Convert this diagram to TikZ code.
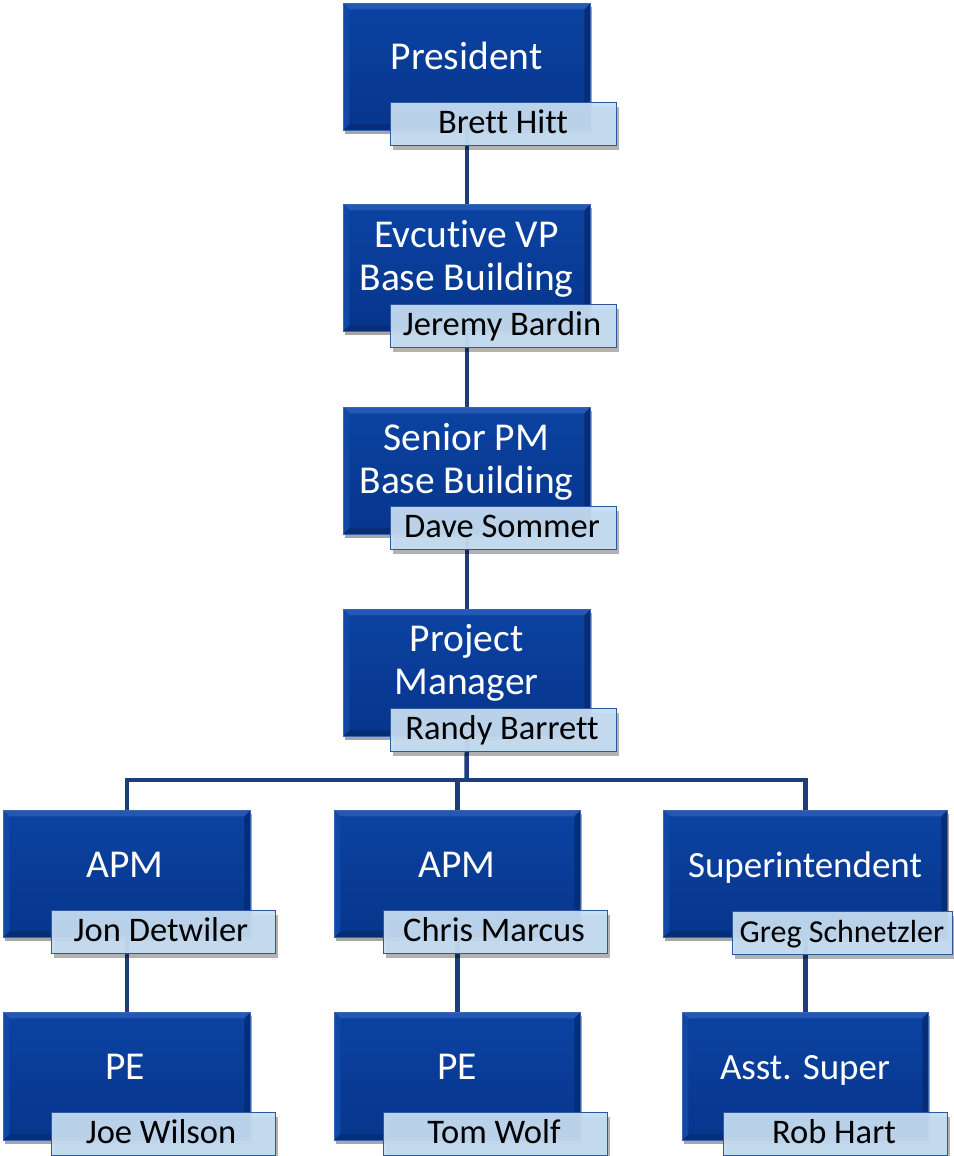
\documentclass[tikz,border=0pt]{standalone}
\usepackage{fontspec}
\setmainfont{Carlito}[Ligatures=NoCommon]
\usetikzlibrary{shadows}

\definecolor{roletop}{HTML}{0B43A2}
\definecolor{rolebottom}{HTML}{07358C}
\definecolor{roleedge}{HTML}{3A66B0}
\definecolor{bevellight}{HTML}{2458B4}
\definecolor{bevelside}{HTML}{0F48A6}
\definecolor{beveldark}{HTML}{062E78}
\definecolor{namefill}{HTML}{C6DDF2}
\definecolor{nameedge}{HTML}{2D5A9E}
\definecolor{linkblue}{HTML}{1D3D7C}

\pgfdeclarelayer{links}
\pgfsetlayers{links,main}

\tikzset{
  rolebox/.style={rectangle, inner sep=0pt, anchor=north west,
    draw=roleedge, line width=0.8pt,
    top color=roletop, bottom color=rolebottom,
    drop shadow={shadow xshift=2pt, shadow yshift=-4pt, opacity=0.35, fill=black},
    path picture={
      \fill[bevellight] (path picture bounding box.north west) -- (path picture bounding box.north east)
        -- ([shift={(-6pt,-6pt)}]path picture bounding box.north east)
        -- ([shift={(6pt,-6pt)}]path picture bounding box.north west) -- cycle;
      \fill[bevelside] (path picture bounding box.north west) -- ([shift={(6pt,-6pt)}]path picture bounding box.north west)
        -- ([shift={(6pt,6pt)}]path picture bounding box.south west)
        -- (path picture bounding box.south west) -- cycle;
      \fill[beveldark] (path picture bounding box.north east) -- ([shift={(-6pt,-6pt)}]path picture bounding box.north east)
        -- ([shift={(-6pt,6pt)}]path picture bounding box.south east)
        -- (path picture bounding box.south east) -- cycle;
      \fill[beveldark] (path picture bounding box.south west) -- ([shift={(6pt,6pt)}]path picture bounding box.south west)
        -- ([shift={(-6pt,6pt)}]path picture bounding box.south east)
        -- (path picture bounding box.south east) -- cycle;
    }},
  namebox/.style={rectangle, inner sep=0pt, anchor=north west,
    draw=nameedge, line width=1.2pt, fill=namefill, fill opacity=0.94,
    minimum height=43pt,
    drop shadow={shadow xshift=2pt, shadow yshift=-4pt, opacity=0.3, fill=black}},
  titletext/.style={anchor=base, inner sep=0pt, text=white, font=\fontsize{39.5}{43}\selectfont},
  smalltitle/.style={titletext, font=\fontsize{37}{43}\selectfont},
  nametext/.style={anchor=base, inner sep=0pt, text=black, font=\fontsize{34.5}{38}\selectfont},
  smallname/.style={nametext, font=\fontsize{32}{36}\selectfont},
  link/.style={draw=linkblue, line width=4.5pt}
}

\begin{document}
\begin{tikzpicture}[x=1pt, y=-1pt]
\useasboundingbox (0,0) rectangle (953,1156);

% ---- chain of command ----
\node[rolebox, minimum width=247pt, minimum height=127pt] (pres) at (343,3) {};
\node[titletext] (presT) at (466.5,70) {President};
\node[namebox, minimum width=226pt] (presB) at (390,102) {};
\node[nametext] (presN) at (503,133) {Brett Hitt};

\node[rolebox, minimum width=247pt, minimum height=127pt] (evp) at (343,204) {};
\node[titletext] (evpT1) at (466.5,247) {Evcutive VP};
\node[titletext] (evpT2) at (466.5,290) {Base Building};
\node[namebox, minimum width=226pt] (evpB) at (390,304) {};
\node[nametext] (evpN) at (502,335) {Jeremy Bardin};

\node[rolebox, minimum width=247pt, minimum height=127pt] (spm) at (343,407) {};
\node[titletext] (spmT1) at (466.5,450) {Senior PM};
\node[titletext] (spmT2) at (466.5,493) {Base Building};
\node[namebox, minimum width=226pt] (spmB) at (390,506) {};
\node[nametext] (spmN) at (502,537) {Dave Sommer};

\node[rolebox, minimum width=247pt, minimum height=127pt] (pm) at (343,609) {};
\node[titletext] (pmT1) at (466.5,651) {Project};
\node[titletext] (pmT2) at (466.5,694) {Manager};
\node[namebox, minimum width=226pt] (pmB) at (390,708) {};
\node[nametext] (pmN) at (502,739) {Randy Barrett};

% ---- second row ----
\node[rolebox, minimum width=247pt, minimum height=127pt] (apmA) at (3,810) {};
\node[titletext] (apmAT) at (125,877) {APM};
\node[namebox, minimum width=224pt] (apmAB) at (51,910) {};
\node[nametext] (apmAN) at (161,941) {Jon Detwiler};

\node[rolebox, minimum width=246pt, minimum height=127pt] (apmB) at (334,810) {};
\node[titletext] (apmBT) at (457,877) {APM};
\node[namebox, minimum width=224pt] (apmBB) at (383,910) {};
\node[nametext] (apmBN) at (494,941) {Chris Marcus};

\node[rolebox, minimum width=284pt, minimum height=127pt] (sup) at (663,810) {};
\node[smalltitle] (supT) at (805,877) {Superintendent};
\node[namebox, minimum width=220pt] (supB) at (732,911) {};
\node[smallname] (supN) at (842,942) {Greg Schnetzler};

% ---- third row ----
\node[rolebox, minimum width=247pt, minimum height=128pt] (peA) at (3,1012) {};
\node[titletext] (peAT) at (125,1079) {PE};
\node[namebox, minimum width=224pt] (peAB) at (51,1112) {};
\node[nametext] (peAN) at (161,1143) {Joe Wilson};

\node[rolebox, minimum width=246pt, minimum height=128pt] (peB) at (334,1012) {};
\node[titletext] (peBT) at (457,1079) {PE};
\node[namebox, minimum width=224pt] (peBB) at (383,1112) {};
\node[nametext] (peBN) at (494,1143) {Tom Wolf};

\node[rolebox, minimum width=246pt, minimum height=128pt] (asst) at (682,1012) {};
\node[smalltitle] (asstT) at (805,1079) {Asst. Super};
\node[namebox, minimum width=224pt] (asstB) at (723,1112) {};
\node[nametext] (asstN) at (834,1143) {Rob Hart};

% ---- reporting lines, behind the boxes ----
\coordinate (bus) at (466.5,780);
\begin{pgfonlayer}{links}
  \draw[link] (pres.south) -- (evp.north);
  \draw[link] (evp.south) -- (spm.north);
  \draw[link] (spm.south) -- (pm.north);
  \draw[link] (pm.south) -- (bus);
  \draw[link] (apmA.north) |- (bus) -| (sup.north);
  \draw[link] (apmB.north) -- (apmB.north |- bus);
  \draw[link] (apmA.south) -- (peA.north);
  \draw[link] (apmB.south) -- (peB.north);
  \draw[link] (sup.south) -- (asst.north);
\end{pgfonlayer}
\end{tikzpicture}
\end{document}
